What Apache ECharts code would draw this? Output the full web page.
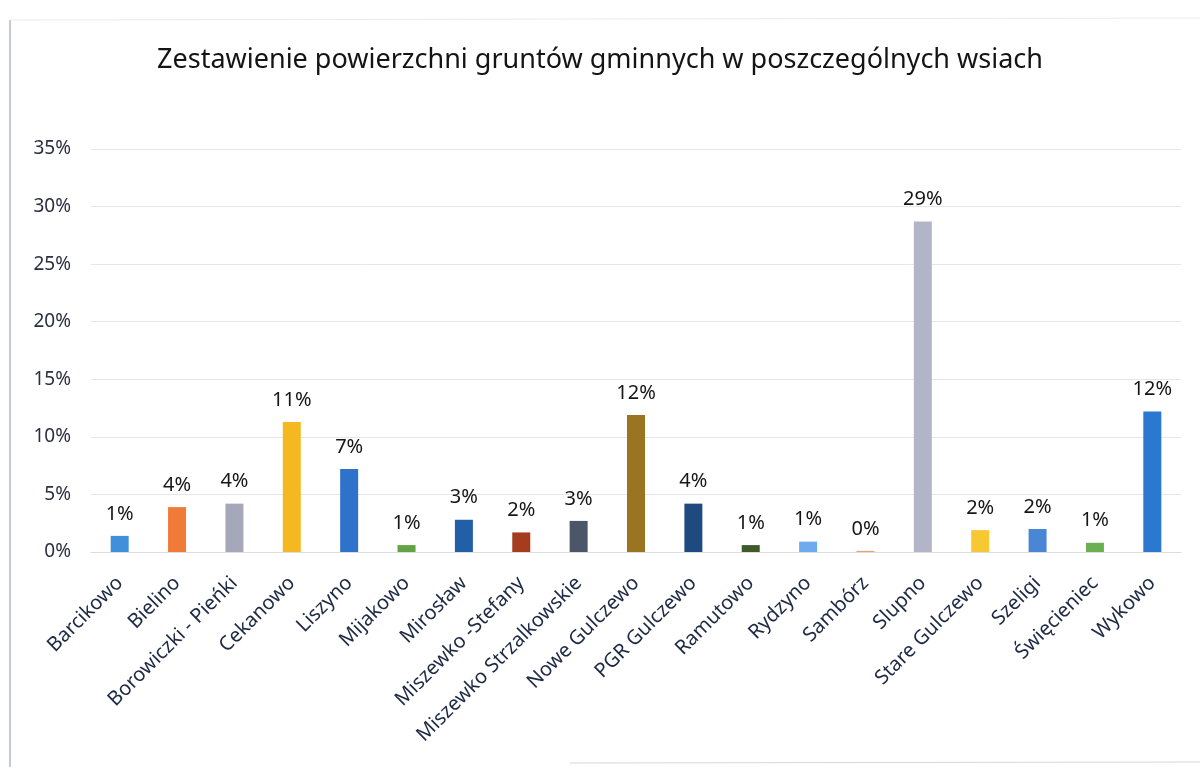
<!DOCTYPE html>
<html>
<head>
<meta charset="utf-8">
<script src="https://cdn.jsdelivr.net/npm/echarts@6/dist/echarts.min.js"></script>
<style>
html,body{margin:0;padding:0;background:#fff;}
#chart{width:1200px;height:767px;}
</style>
</head>
<body>
<div id="chart"></div>
<script>
const title = 'Zestawienie powierzchni gruntów gminnych w poszczególnych wsiach';
const categories = ['Barcikowo','Bielino','Borowiczki - Pieńki','Cekanowo','Liszyno','Mijakowo','Mirosław','Miszewko -Stefany','Miszewko Strzalkowskie','Nowe Gulczewo','PGR Gulczewo','Ramutowo','Rydzyno','Sambórz','Slupno','Stare Gulczewo','Szeligi','Święcieniec','Wykowo'];
const values = [1.4, 3.9, 4.2, 11.3, 7.2, 0.6, 2.8, 1.7, 2.7, 11.9, 4.2, 0.6, 0.9, 0.1, 28.7, 1.9, 2.0, 0.8, 12.2];
const colors = ['#3f8fdc','#f07a38','#a4a8b8','#f5b821','#2f72cc','#62a344','#215fa6','#a43c1e','#4b5668','#9a7420','#1f4a80','#3e5a2b','#6eaaee','#f0a070','#b2b5c8','#f8c832','#4a86d6','#6cae52','#2a78d0'];
const yTicks = {min: 0, max: 35, interval: 5};

const chart = echarts.init(document.getElementById('chart'));
const FONT = '"Noto Sans", "DejaVu Sans", sans-serif';
chart.setOption({
  backgroundColor: '#ffffff',
  animation: false,
  title: {
    text: title,
    left: 'center',
    top: 42,
    textStyle: {fontFamily: FONT, fontSize: 27, fontWeight: 'normal', color: '#141414'}
  },
  graphic: [
    {type: 'line', shape: {x1: 10, y1: 20, x2: 10, y2: 767}, style: {stroke: '#c4c8d8', lineWidth: 2}},
    {type: 'line', shape: {x1: 10, y1: 20, x2: 1200, y2: 18}, style: {stroke: '#e8eaf0', lineWidth: 1}},
    {type: 'line', shape: {x1: 570, y1: 763, x2: 1200, y2: 762}, style: {stroke: '#d8d8d8', lineWidth: 1}}
  ],
  grid: {left: 91, right: 19, top: 149, bottom: 215},
  xAxis: {
    type: 'category',
    data: categories,
    axisLine: {show: true, lineStyle: {color: '#dcdcdc'}},
    axisTick: {show: false},
    axisLabel: {
      interval: 0,
      rotate: 45,
      margin: 28,
      fontFamily: FONT,
      fontSize: 20,
      color: '#1e2a44'
    }
  },
  yAxis: {
    type: 'value',
    min: yTicks.min,
    max: yTicks.max,
    interval: yTicks.interval,
    axisLine: {show: false},
    axisTick: {show: false},
    splitLine: {lineStyle: {color: '#e6e6e6'}},
    axisLabel: {
      formatter: '{value}%',
      margin: 20,
      fontFamily: FONT,
      fontSize: 19,
      color: '#2a3040'
    }
  },
  series: [{
    type: 'bar',
    data: values.map((v, i) => ({value: v, itemStyle: {color: colors[i]}})),
    barWidth: 18,
    label: {
      show: true,
      position: 'top',
      distance: 12,
      formatter: p => Math.round(p.value) + '%',
      fontFamily: FONT,
      fontSize: 20,
      color: '#161616'
    }
  }]
});
</script>
</body>
</html>
